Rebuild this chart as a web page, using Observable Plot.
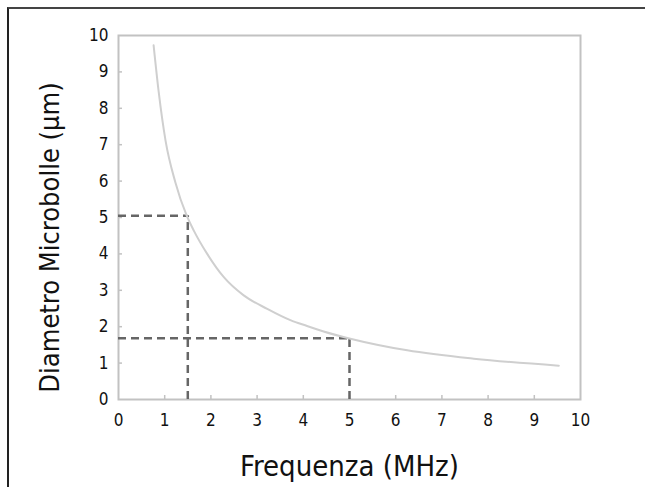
<!DOCTYPE html>
<html>
<head>
<meta charset="utf-8">
<script src="https://cdn.jsdelivr.net/npm/d3@7"></script>
<script src="https://cdn.jsdelivr.net/npm/@observablehq/plot@0.6"></script>
<style>
  html, body { margin: 0; padding: 0; background: #fff; }
  #wrap { position: relative; width: 645px; height: 487px; overflow: hidden; }
  #border { position: absolute; left: 7px; top: 7px; width: 700px; height: 600px;
            border-top: 2px solid #444; border-left: 2px solid #222; pointer-events: none; }
</style>
</head>
<body>
<div id="wrap"><div id="border"></div></div>
<script>
// Curve (frequency MHz -> bubble diameter µm)
const freq     = [0.76, 0.87, 1.02, 1.23, 1.47, 1.63, 1.92, 2.28, 2.71, 3.22, 3.72, 4.08, 4.44, 5.02, 6.25, 7.69, 9.53];
const diameter = [9.73, 8.45, 7.10, 5.97, 5.07, 4.64, 4.00, 3.36, 2.86, 2.49, 2.18, 2.02, 1.87, 1.67, 1.35, 1.12, 0.93];

// Dashed guide lines (frequency, diameter)
const guideFreq = [1.5, 5];
const guideDiam = [5.05, 1.68];
const origin = 0;

const xTicks = [0, 1, 2, 3, 4, 5, 6, 7, 8, 9, 10];
const yTicks = [0, 1, 2, 3, 4, 5, 6, 7, 8, 9, 10];
const xInnerTicks = [1, 2, 3, 4, 5, 6, 7, 8, 9];
const yInnerTicks = [1, 2, 3, 4, 5, 6, 7, 8, 9];

const xTitle = "Frequenza (MHz)";
const yTitle = "Diametro Microbolle (\u03BCm)";

const curve = freq.map((f, i) => ({f, d: diameter[i]}));
const guides = guideFreq.map((f, i) => ({f, d: guideDiam[i], o: origin}));

const font = "'DejaVu Sans Condensed', 'DejaVu Sans', sans-serif";

const chart = Plot.plot({
  width: 645,
  height: 487,
  marginLeft: 118,
  marginRight: 65,
  marginTop: 35,
  marginBottom: 88,
  style: {fontFamily: font, background: "transparent", color: "#111"},
  x: {domain: [0, 10]},
  y: {domain: [0, 10]},
  marks: [
    Plot.frame({stroke: "#c2c2c2", strokeWidth: 2}),
    Plot.axisX(xInnerTicks, {tickSize: 4, dy: -4, text: null, label: null, stroke: "#c2c2c2", strokeWidth: 1.5}),
    Plot.axisY(yInnerTicks, {tickSize: 4, dx: 4, text: null, label: null, stroke: "#c2c2c2", strokeWidth: 1.5}),
    Plot.axisX(xTicks, {tickSize: 0, tickPadding: 14, label: null, fontSize: 17, fill: "#111"}),
    Plot.axisY(yTicks, {tickSize: 0, tickPadding: 10, label: null, fontSize: 17, fill: "#111"}),
    Plot.ruleY(guides, {y: "d", x1: "o", x2: "f", stroke: "#666", strokeWidth: 2.5, strokeDasharray: "8,5"}),
    Plot.ruleX(guides, {x: "f", y1: "o", y2: "d", stroke: "#666", strokeWidth: 2.5, strokeDasharray: "8,5"}),
    Plot.line(curve, {x: "f", y: "d", curve: "monotone-x", stroke: "#cfcfcf", strokeWidth: 2}),
    Plot.text([xTitle], {text: d => d, frameAnchor: "bottom", dy: 67, fontSize: 29, fill: "#111", lineAnchor: "middle", textAnchor: "middle"}),
    Plot.text([yTitle], {text: d => d, frameAnchor: "left", dx: -68, dy: 20, rotate: -90, fontSize: 27, fill: "#111", lineAnchor: "middle", textAnchor: "middle"})
  ]
});
document.getElementById("wrap").insertBefore(chart, document.getElementById("border"));
chart.style.position = "absolute";
chart.style.left = "0";
chart.style.top = "0";
</script>
</body>
</html>
